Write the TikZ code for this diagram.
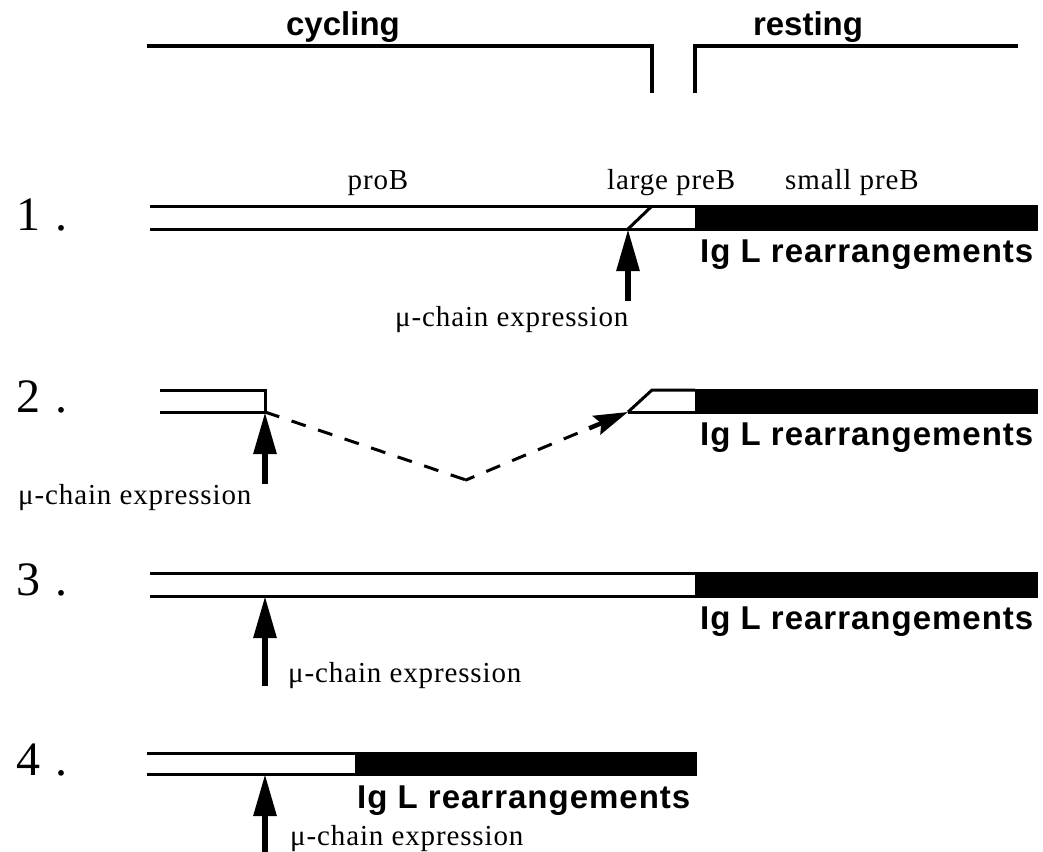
\documentclass[tikz,border=0pt]{standalone}
\usepackage{fontspec}
\setmainfont{Liberation Serif}
\newfontfamily\labsans{Liberation Sans}
\newfontfamily\labsansw[LetterSpace=3]{Liberation Sans}
\newfontfamily\labserif[LetterSpace=3]{Liberation Serif}
\usetikzlibrary{arrows.meta,calc}
\begin{document}
\begin{tikzpicture}[x=1pt,y=-1pt,
  barline/.style={line width=3pt},
  bracketline/.style={line width=4.5pt},
  serif/.style={font=\labserif\fontsize{29}{31}\selectfont, inner sep=0pt},
  numlab/.style={font=\fontsize{48}{50}\selectfont, inner sep=0pt, anchor=base west},
  toplab/.style={font=\labsans\bfseries\fontsize{33}{36}\selectfont, inner sep=0pt},
  boldlab/.style={font=\labsansw\bfseries\fontsize{33}{36}\selectfont, inner sep=0pt},
  muarrow/.style={line width=6pt, -{Triangle[length=42pt,width=22pt]}},
  dashline/.style={line width=3pt, dash pattern=on 15pt off 13pt},
  blackbar/.style={fill=black, draw=none}
]
\useasboundingbox (0,0) rectangle (1043,851);

% top brackets
\coordinate (cyA) at (147,46);
\coordinate (cyB) at (652,46);
\coordinate (cyC) at (652,93);
\coordinate (reA) at (695,93);
\coordinate (reB) at (695,46);
\coordinate (reC) at (1018,46);
\draw[bracketline] (cyA) -- (cyB) -- (cyC);
\draw[bracketline] (reA) -- (reB) -- (reC);
\node[toplab, anchor=base] (cycling) at (343,36) {cycling};
\node[toplab, anchor=base] (resting) at (808,36) {resting};

% ---------- row 1 ----------
\node[numlab] (n1) at (16,230) {1\hspace{15pt}.};
\node[serif, anchor=base] (prob) at (378,189) {proB};
\node[serif, anchor=base west] (lpreb) at (607,189) {large preB};
\node[serif, anchor=base west] (spreb) at (785,189) {small preB};
\fill[blackbar] (695,204.5) rectangle (1038,230.5);
\draw[barline] (150,206) -- (695,206);
\draw[barline] (150,229) -- (695,229);
\coordinate (r1tip) at (628,229);
\coordinate (r1top) at (652,206);
\draw[barline] (r1tip) -- (r1top);
\node[boldlab, anchor=base west] (ig1) at (700,262) {Ig L rearrangements};
\coordinate (a1tail) at (628,301);
\draw[muarrow] (a1tail) -- (r1tip);
\node[serif, anchor=base west] (mu1) at (395,326) {μ-chain expression};

% ---------- row 2 ----------
\node[numlab] (n2) at (16,412) {2\hspace{15pt}.};
\draw[barline] (160,390) -- (265,390) -- (265,412);
\draw[barline] (160,412) -- (265,412);
\coordinate (r2left) at (265,412);
\fill[blackbar] (695,388.5) rectangle (1038,413.5);
\coordinate (r2tip) at (628,412);
\coordinate (r2top) at (652,390);
\draw[barline] (r2tip) -- (r2top) -- (695,390);
\draw[barline] (r2tip) -- (695,412);
\node[boldlab, anchor=base west] (ig2) at (700,445) {Ig L rearrangements};
\coordinate (a2tail) at (265,484);
\draw[muarrow] (a2tail) -- (r2left);
\node[serif, anchor=base west] (mu2) at (18,504) {μ-chain expression};
\coordinate (dip) at (466,480);
\draw[dashline] (r2left) -- (dip);
\fill (dip) circle (1.6pt);
\coordinate (headstart) at ($(dip)!0.76!(r2tip)$);
\draw[dashline, dash phase=6pt] (dip) -- (headstart);
\draw[line width=4.5pt, -{Stealth[length=34pt,width=20pt,inset=5pt]}] (headstart) -- (r2tip);

% ---------- row 3 ----------
\node[numlab] (n3) at (16,595) {3\hspace{15pt}.};
\fill[blackbar] (695,571.5) rectangle (1038,597.5);
\draw[barline] (150,573) -- (695,573);
\draw[barline] (150,596) -- (695,596);
\coordinate (r3tip) at (265,596);
\node[boldlab, anchor=base west] (ig3) at (700,629) {Ig L rearrangements};
\coordinate (a3tail) at (265,686);
\draw[muarrow] (a3tail) -- (r3tip);
\node[serif, anchor=base west] (mu3) at (288,682) {μ-chain expression};

% ---------- row 4 ----------
\node[numlab] (n4) at (16,775) {4\hspace{15pt}.};
\fill[blackbar] (355,751.5) rectangle (697,775.5);
\draw[barline] (147,753) -- (355,753);
\draw[barline] (147,774) -- (355,774);
\coordinate (r4tip) at (265,774);
\node[boldlab, anchor=base west] (ig4) at (357,808) {Ig L rearrangements};
\coordinate (a4tail) at (265,853);
\draw[muarrow] (a4tail) -- (r4tip);
\node[serif, anchor=base west] (mu4) at (290,845) {μ-chain expression};
\end{tikzpicture}
\end{document}
